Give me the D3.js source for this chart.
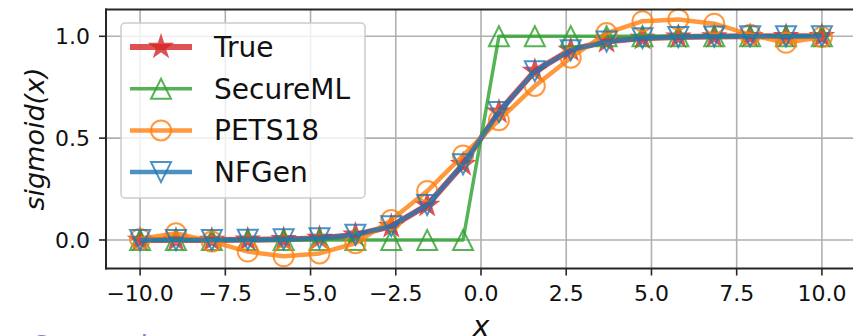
<!DOCTYPE html>
<html>
<head>
<meta charset="utf-8">
<script src="https://cdn.jsdelivr.net/npm/d3@7"></script>
<style>
  body { margin: 0; background: #fff; }
  svg { display: block; font-family: "DejaVu Sans", sans-serif; }
</style>
</head>
<body>
<div id="chart"></div>
<script>
// x positions of the samples (20 points between -10 and 10)
var xs = [-10, -8.947, -7.895, -6.842, -5.789, -4.737, -3.684, -2.632, -1.579, -0.526,
          0.526, 1.579, 2.632, 3.684, 4.737, 5.789, 6.842, 7.895, 8.947, 10];

// values
var trueVals     = [0.000, 0.000, 0.000, 0.001, 0.003, 0.009, 0.025, 0.067, 0.171, 0.371,
                    0.629, 0.829, 0.933, 0.975, 0.991, 0.997, 0.999, 1.000, 1.000, 1.000];
var secureMLVals = [0, 0, 0, 0, 0, 0, 0, 0, 0, 0,
                    1, 1, 1, 1, 1, 1, 1, 1, 1, 1];
var pets18Vals   = [0.005, 0.033, -0.008, -0.057, -0.080, -0.066, -0.016, 0.098, 0.240, 0.415,
                    0.588, 0.756, 0.895, 1.016, 1.074, 1.083, 1.062, 1.008, 0.968, 0.997];
var nfgenVals    = [0.000, 0.000, 0.000, 0.001, 0.003, 0.009, 0.026, 0.068, 0.172, 0.372,
                    0.628, 0.828, 0.932, 0.974, 0.991, 0.997, 0.999, 1.000, 1.000, 1.000];

var seriesNames = ["True", "SecureML", "PETS18", "NFGen"];
var xTicks = [-10, -7.5, -5, -2.5, 0, 2.5, 5, 7.5, 10];
var yTicks = [0, 0.5, 1.0];

var W = 853, H = 336;

var series = [
  {name: seriesNames[0], vals: trueVals,     color: "#d62728", lw: 6,   marker: "star"},
  {name: seriesNames[1], vals: secureMLVals, color: "#2ca02c", lw: 3.5, marker: "tri-up"},
  {name: seriesNames[2], vals: pets18Vals,   color: "#ff7f0e", lw: 4.5, marker: "circle"},
  {name: seriesNames[3], vals: nfgenVals,    color: "#1f77b4", lw: 4.5, marker: "tri-down"}
];

var x = d3.scaleLinear().domain([-11, 11]).range([106, 856]);
var y = d3.scaleLinear().domain([-0.14, 1.1316]).range([268.5, 9.5]);

var svg = d3.select("#chart").append("svg")
    .attr("width", W)
    .attr("height", H);

// grid
svg.append("g").selectAll("line")
    .data(xTicks).enter().append("line")
    .attr("x1", function(d) { return x(d); })
    .attr("x2", function(d) { return x(d); })
    .attr("y1", y.range()[1]).attr("y2", y.range()[0])
    .style("stroke", "#b0b0b0").style("stroke-width", 1.6);
svg.append("g").selectAll("line")
    .data(yTicks).enter().append("line")
    .attr("y1", function(d) { return y(d); })
    .attr("y2", function(d) { return y(d); })
    .attr("x1", x.range()[0]).attr("x2", x.range()[1])
    .style("stroke", "#b0b0b0").style("stroke-width", 1.6);

// triangle markers like matplotlib's ^ and v (width == height)
var triUp = {
  draw: function(ctx, size) {
    var r = Math.sqrt(size) / 2;
    ctx.moveTo(0, -r); ctx.lineTo(r, r); ctx.lineTo(-r, r); ctx.closePath();
  }
};
var triDown = {
  draw: function(ctx, size) {
    var r = Math.sqrt(size) / 2;
    ctx.moveTo(0, r); ctx.lineTo(r, -r); ctx.lineTo(-r, -r); ctx.closePath();
  }
};

function drawMarker(sel, kind, color) {
  if (kind == "circle") {
    sel.append("circle").attr("r", 10)
      .style("fill", "none").style("stroke", color).style("stroke-width", 2);
  } else if (kind == "star") {
    sel.append("path").attr("d", d3.symbol().type(d3.symbolStar).size(150)())
      .style("fill", color).style("stroke", color).style("stroke-width", 1.5);
  } else {
    var t = kind == "tri-up" ? triUp : triDown;
    sel.append("path").attr("d", d3.symbol().type(t).size(400)())
      .style("fill", "none").style("stroke", color).style("stroke-width", 2);
  }
}

var line = d3.line()
    .x(function(d) { return x(d[0]); })
    .y(function(d) { return y(d[1]); });

series.forEach(function(s) {
  var pts = xs.map(function(xv, i) { return [xv, s.vals[i]]; });
  var g = svg.append("g");
  g.append("path")
    .datum(pts)
    .attr("d", line)
    .style("fill", "none")
    .style("stroke", s.color)
    .style("stroke-width", s.lw)
    .style("stroke-linejoin", "round")
    .style("opacity", 0.8);
  g.selectAll("g.m").data(pts).enter().append("g")
    .attr("class", "m")
    .attr("transform", function(d) { return "translate(" + x(d[0]) + "," + y(d[1]) + ")"; })
    .style("opacity", 0.8)
    .each(function() { drawMarker(d3.select(this), s.marker, s.color); });
});

// spines (right one falls outside the picture)
var frame = svg.append("g").style("stroke", "#262626").style("stroke-width", 2).style("fill", "none");
frame.append("line").attr("x1", x.range()[0]).attr("x2", x.range()[0]).attr("y1", y.range()[0] + 1).attr("y2", y.range()[1] - 1);
frame.append("line").attr("x1", x.range()[0] - 1).attr("x2", W).attr("y1", y.range()[0]).attr("y2", y.range()[0]);
frame.append("line").attr("x1", x.range()[0] - 1).attr("x2", W).attr("y1", y.range()[1]).attr("y2", y.range()[1]);

// ticks and tick labels
var fmt = d3.format(".1f");
var xt = svg.append("g");
xTicks.forEach(function(t) {
  xt.append("line").attr("x1", x(t)).attr("x2", x(t))
    .attr("y1", y.range()[0]).attr("y2", y.range()[0] + 7)
    .style("stroke", "#262626").style("stroke-width", 1.6);
  xt.append("text").attr("x", x(t)).attr("y", 301)
    .attr("text-anchor", "middle")
    .style("font-size", "22px").style("fill", "#111")
    .text(fmt(t).replace("-", "\u2212"));
});
var yt = svg.append("g");
yTicks.forEach(function(t) {
  yt.append("line").attr("x1", x.range()[0] - 7).attr("x2", x.range()[0])
    .attr("y1", y(t)).attr("y2", y(t))
    .style("stroke", "#262626").style("stroke-width", 1.6);
  yt.append("text").attr("x", 90).attr("y", y(t) + 8)
    .attr("text-anchor", "end")
    .style("font-size", "22px").style("fill", "#111")
    .text(fmt(t));
});

// axis labels
svg.append("text").attr("x", 481).attr("y", 336)
  .attr("text-anchor", "middle")
  .style("font-size", "28px").style("font-style", "italic").style("fill", "#111")
  .text("x");
svg.append("text")
  .attr("transform", "translate(44,139) rotate(-90)")
  .attr("text-anchor", "middle")
  .style("font-size", "27px").style("font-style", "italic").style("fill", "#111")
  .text("sigmoid(x)");

// legend
var leg = svg.append("g");
leg.append("rect").attr("x", 121).attr("y", 23).attr("width", 244).attr("height", 175)
  .attr("rx", 4)
  .style("fill", "#fff").style("fill-opacity", 0.8)
  .style("stroke", "#cccccc").style("stroke-width", 1.5);
series.forEach(function(s, i) {
  var cy = 47 + i * 41.7;
  var row = leg.append("g");
  row.append("line").attr("x1", 130).attr("x2", 192).attr("y1", cy).attr("y2", cy)
    .style("stroke", s.color).style("stroke-width", s.lw).style("opacity", 0.8);
  var m = row.append("g").attr("transform", "translate(161," + cy + ")").style("opacity", 0.8);
  drawMarker(m, s.marker, s.color);
  row.append("text").attr("x", 214).attr("y", cy + 10)
    .style("font-size", "28px").style("fill", "#111")
    .text(s.name);
});

// caption of the next panel, cut off at the bottom edge
svg.append("text").attr("x", 30).attr("y", 356)
  .style("font-size", "28px").style("fill", "#a070d0")
  .text("Comparison");
</script>
</body>
</html>
